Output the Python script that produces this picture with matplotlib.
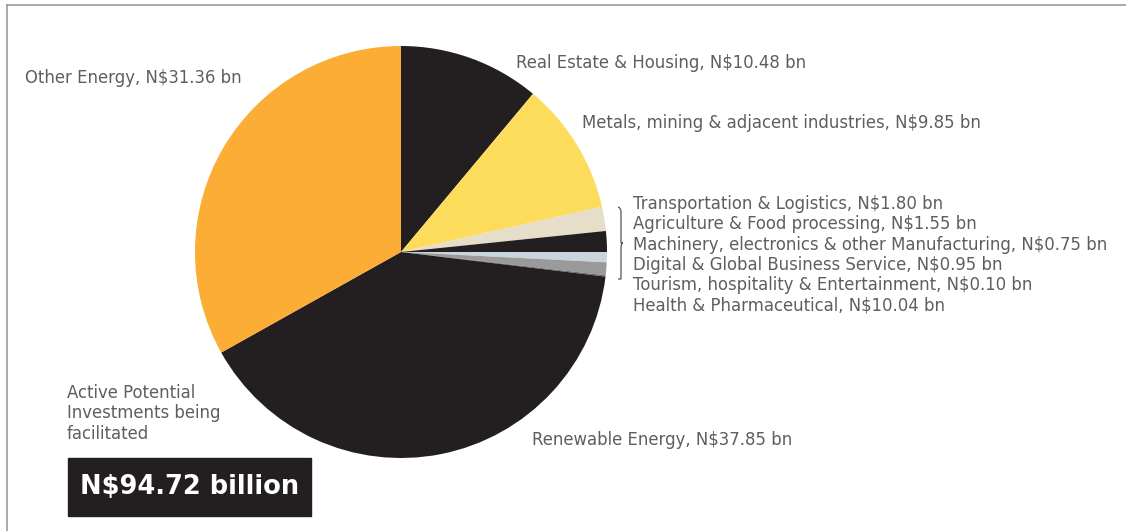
import matplotlib.pyplot as plt
from matplotlib.path import Path
from matplotlib.patches import PathPatch, Rectangle

W, H = 1126, 531

# slice values in N$ bn, in drawing order (clockwise from 12 o'clock)
sectors = ['Real Estate & Housing', 'Metals, mining & adjacent industries',
           'Transportation & Logistics', 'Agriculture & Food processing',
           'Machinery, electronics & other Manufacturing',
           'Digital & Global Business Service',
           'Tourism, hospitality & Entertainment',
           'Renewable Energy', 'Other Energy']
values = [10.48, 9.85, 1.80, 1.55, 0.75, 0.95, 0.10, 37.85, 31.36]
colors = ['#231f20', '#fcdc5a', '#e6dec8', '#231f20', '#c9d5dd',
          '#9a9a9a', '#6e6e6e', '#231f20', '#fbad36']

# labels for the bracketed group of small sectors
small_labels = ['Transportation & Logistics, N$1.80 bn',
                'Agriculture & Food processing, N$1.55 bn',
                'Machinery, electronics & other Manufacturing, N$0.75 bn',
                'Digital & Global Business Service, N$0.95 bn',
                'Tourism, hospitality & Entertainment, N$0.10 bn',
                'Health & Pharmaceutical, N$10.04 bn']
caption = ['Active Potential', 'Investments being', 'facilitated']
total_label = 'N$94.72 billion'

TXT = '#5e5e5e'
FS = 11.9


def px(x, y):
    """pixel coords (origin top-left) -> figure fraction"""
    return x / W, 1 - y / H


fig = plt.figure(figsize=(W / 100, H / 100), dpi=100)

# frame lines at top and left
fig.add_artist(plt.Line2D([px(7, 0)[0], 1], [px(0, 5)[1]] * 2,
                          color='#9a9a9a', lw=1.2))
fig.add_artist(plt.Line2D([px(7, 0)[0]] * 2, [0, px(0, 5)[1]],
                          color='#9a9a9a', lw=1.2))

# pie axes: centre (401, 252), radius 206 px
cx, cy, r = 401, 252, 206
ax = fig.add_axes([(cx - r) / W, 1 - (cy + r) / H, 2 * r / W, 2 * r / H])
ax.pie(values, colors=colors, startangle=90, counterclock=False, radius=1,
       wedgeprops=dict(linewidth=0.3, edgecolor='none'))
ax.set_xlim(-1, 1)
ax.set_ylim(-1, 1)
ax.set_aspect('equal')
ax.axis('off')

# outer labels
fig.text(*px(25, 78), 'Other Energy, N$31.36 bn', color=TXT, fontsize=FS,
         va='center', ha='left')
fig.text(*px(516, 63), 'Real Estate & Housing, N$10.48 bn', color=TXT,
         fontsize=FS, va='center', ha='left')
fig.text(*px(582, 123), 'Metals, mining & adjacent industries, N$9.85 bn',
         color=TXT, fontsize=FS, va='center', ha='left')
fig.text(*px(532, 440), 'Renewable Energy, N$37.85 bn', color=TXT,
         fontsize=FS, va='center', ha='left')

for i, lab in enumerate(small_labels):
    fig.text(*px(633, 204 + i * 20.3), lab, color=TXT, fontsize=FS,
             va='center', ha='left')

# curly brace
pts = [(618, 207), (621, 208), (621, 212), (621, 226),
       (621, 238), (621, 243), (623, 243),
       (621, 243), (621, 248), (621, 260),
       (621, 274), (621, 279), (618, 279)]
codes = [Path.MOVETO, Path.CURVE3, Path.CURVE3, Path.LINETO,
         Path.CURVE3, Path.CURVE3, Path.LINETO,
         Path.CURVE3, Path.CURVE3, Path.LINETO,
         Path.CURVE3, Path.CURVE3, Path.LINETO]
brace = Path([px(x, y) for x, y in pts], codes)
fig.add_artist(PathPatch(brace, transform=fig.transFigure, fill=False,
                         edgecolor='#555555', lw=0.9))

# total
for i, line in enumerate(caption):
    fig.text(*px(67, 393 + i * 20.3), line, color=TXT, fontsize=FS,
             va='center', ha='left')
x0, y0 = px(68, 516)
x1, y1 = px(311, 458)
fig.add_artist(Rectangle((x0, y0), x1 - x0, y1 - y0,
                         transform=fig.transFigure, color='#231f20'))
fig.text((x0 + x1) / 2, (y0 + y1) / 2, total_label, color='white',
         fontsize=18.5, fontweight='bold', va='center', ha='center')

fig.savefig('out.png', dpi=100)
